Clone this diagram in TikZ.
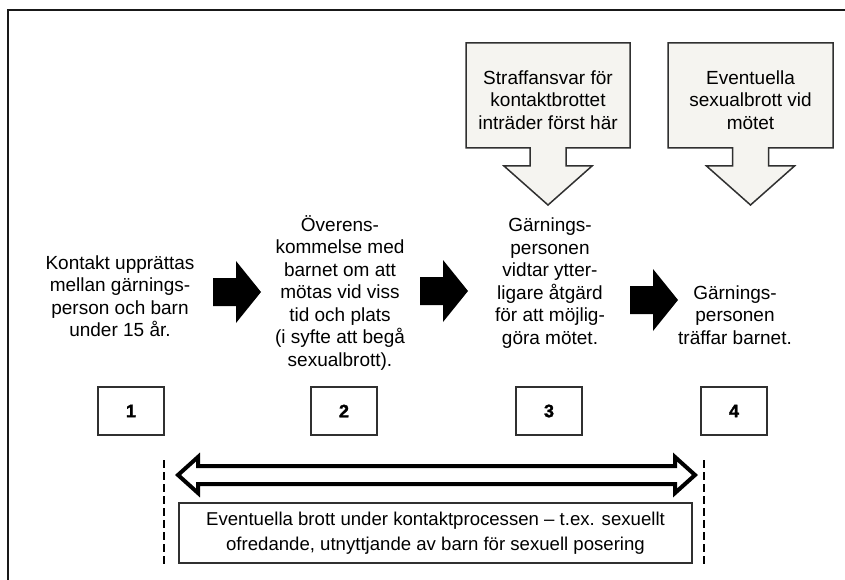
\documentclass[tikz,border=0pt]{standalone}
\usepackage{fontspec}
\setmainfont{Liberation Sans}
\newfontfamily\heavyfont[FakeBold=1.6]{Liberation Sans Bold}
\usetikzlibrary{calc}
\definecolor{boxfill}{HTML}{F5F4F0}
\definecolor{edge}{HTML}{303030}
\begin{document}
\begin{tikzpicture}[x=1pt,y=-1pt,
  txt/.style={align=center, font=\fontsize{19}{22.5}\selectfont, inner sep=0pt},
  callout/.style={fill=boxfill, draw=edge, line width=1.5pt, line join=miter},
  numbox/.style={draw=edge, line width=1.5pt, minimum width=66pt, minimum height=48pt, inner sep=0pt, font=\fontsize{18}{18}\heavyfont},
  blockarrow/.style={fill=black},
  dbl/.style={draw=black, fill=white, line width=4pt, line join=miter},
  botbox/.style={draw=edge, line width=1.5pt, minimum width=513pt, minimum height=60pt, inner sep=0pt, align=center, font=\fontsize{18.6}{25}\selectfont},
  divider/.style={draw=black, line width=2pt, dash pattern=on 8pt off 4pt}
]
\useasboundingbox (0,0) rectangle (845,580);
% outer frame
\draw[line width=2pt, draw=black!90] (8,600) -- (8,10) -- (860,10);

% callout 1
\coordinate (k1) at (548,148);
\draw[callout] (466,43) -- (630,43) -- (630,148) -- ($(k1)+(18,0)$) -- ($(k1)+(18,18)$) -- ($(k1)+(44,18)$)
  -- ($(k1)+(0,57)$) -- ($(k1)+(-44,18)$) -- ($(k1)+(-18,18)$) -- ($(k1)+(-18,0)$) -- (466,148) -- cycle;
\node[txt] (s1) at (548,100) {Straffansvar för\\kontaktbrottet\\inträder först här};

% callout 2
\coordinate (k2) at (750.5,148);
\draw[callout] (668,43) -- (833,43) -- (833,148) -- ($(k2)+(18,0)$) -- ($(k2)+(18,18)$) -- ($(k2)+(44,18)$)
  -- ($(k2)+(0,57)$) -- ($(k2)+(-44,18)$) -- ($(k2)+(-18,18)$) -- ($(k2)+(-18,0)$) -- (668,148) -- cycle;
\node[txt] (s2) at (750.5,100) {Eventuella\\sexualbrott vid\\mötet};

% step texts
\node[txt] (c1) at (120,296) {Kontakt upprättas\\mellan gärnings-\\person och barn\\under 15 år.};
\node[txt] (c2) at (340,293) {Överens-\\kommelse med\\barnet om att\\mötas vid viss\\tid och plats\\(i syfte att begå\\sexualbrott).};
\node[txt] (c3) at (550,283) {Gärnings-\\personen\\vidtar ytter-\\ligare åtgärd\\för att möjlig-\\göra mötet.};
\node[txt] (c4) at (735,315) {Gärnings-\\personen\\träffar barnet.};

% black block arrows
\coordinate (a1) at (213,292);
\coordinate (a2) at (420,291);
\coordinate (a3) at (630,300);
\foreach \a in {a1,a2,a3}{
  \fill[blockarrow] (\a) ++(0,-14) -- ++(23,0) -- ++(0,-17) -- ++(25,31) -- ++(-25,31) -- ++(0,-17) -- ++(-23,0) -- cycle;
}

% number boxes
\node[numbox] (n1) at (131,411) {1};
\node[numbox] (n2) at (344,411) {2};
\node[numbox] (n3) at (549,411) {3};
\node[numbox] (n4) at (734,411) {4};

% double arrow
\coordinate (L) at (178,475);
\coordinate (R) at (695,475);
\draw[dbl] (L) -- ($(L)+(20,-18)$) -- ($(L)+(20,-9)$) -- ($(R)+(-20,-9)$) -- ($(R)+(-20,-18)$) -- (R)
  -- ($(R)+(-20,18)$) -- ($(R)+(-20,9)$) -- ($(L)+(20,9)$) -- ($(L)+(20,18)$) -- cycle;

% bottom box
\node[botbox] (b) at (435.5,533) {Eventuella brott under kontaktprocessen – t.ex. sexuellt\\ofredande, utnyttjande av barn för sexuell posering};

% dashed dividers
\coordinate (d1t) at (164,460);
\coordinate (d1b) at (164,565);
\coordinate (d2t) at (704,460);
\coordinate (d2b) at (704,565);
\draw[divider] (d1t) -- (d1b);
\draw[divider] (d2t) -- (d2b);
\end{tikzpicture}
\end{document}
